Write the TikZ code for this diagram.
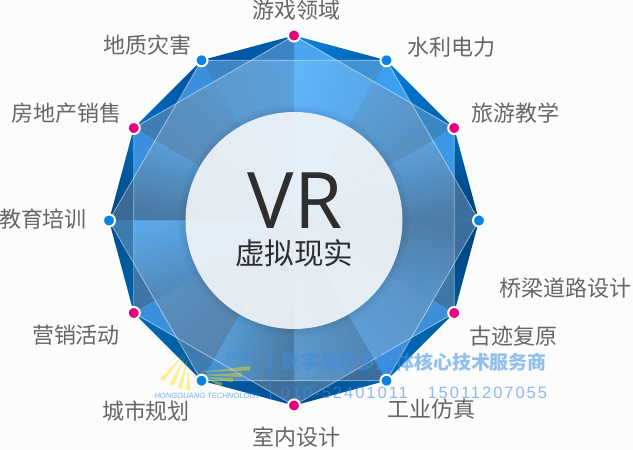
\documentclass[tikz,border=0pt]{standalone}
\usepackage{fontspec}
\usetikzlibrary{calc}
\setmainfont{Noto Sans}
\newfontfamily\cjk{Noto Sans CJK SC}
\newfontfamily\latinf{Liberation Sans}
\newfontfamily\latins[LetterSpace=12]{Liberation Sans}
\newfontfamily\vrfont{Open Sans}
\definecolor{lab}{HTML}{666666}
\definecolor{pinkdot}{HTML}{E5007F}
\definecolor{bluedot}{HTML}{0A84E0}
\definecolor{wm}{HTML}{3E8EE0}
\definecolor{basefill}{HTML}{4F8CC4}
\tikzset{
  x=1pt,y=1pt,
  lab/.style={font=\cjk\fontsize{22}{22}\selectfont,text=lab,inner sep=0pt},
  dotp/.style={circle,draw=white,line width=2pt,fill=pinkdot,minimum size=12pt,inner sep=0pt},
  dotb/.style={circle,draw=white,line width=2pt,fill=bluedot,minimum size=12pt,inner sep=0pt},
  hexline/.style={draw=white,draw opacity=.5,line width=.8pt},
  ray/.style={fill=yellow!80!orange,fill opacity=.45},
}
\begin{document}
\begin{tikzpicture}
\useasboundingbox (0,0) rectangle (633,450);
\fill[white!99!black] (0,0) rectangle (633,450);
\coordinate (c) at (294,229.5);
\def\myR{185}
\def\myX{165.4}
\def\myM{160.2}
\foreach \k in {0,...,12}{
  \pgfmathsetmacro\mya{30*\k}
  \coordinate (p\k) at ($(c)+(\mya:\myR)$);
  \coordinate (m\k) at ($(c)+(\mya:\myM)$);
  \pgfmathsetmacro\myb{30*\k+15}
  \coordinate (x\k) at ($(c)+(\myb:\myX)$);
}
\fill[basefill] (p0)--(p2)--(p4)--(p6)--(p8)--(p10)--cycle;
\fill[basefill] (c) circle (155);
% k / outer low,high / tip low, tip high / kite low, high
\foreach \k/\cola/\colb/\colc/\cold/\cole/\colf in {
 0/00427C/0068B8/3A6F9E/3A98E8/4E7EA9/63ACEC,
 1/0062AE/007ADA/3B87C4/3AA0EF/5788B4/5BA6E6,
 2/0060AC/0A80DA/3F92D4/4AA5EF/55A2E2/60B4F8,
 3/0062AC/0050A0/3C85C5/3C85C6/5AA0DC/5C96C8,
 4/0052A0/006ABA/3A90DC/3C7EB5/5C9AD0/5686B2,
 5/0068B4/004A84/3B8FDC/3A6A96/60AAEA/4A79A3,
 6/00508C/0064AE/3C7AB0/3E75A5/5AA6E6/4E7CA6,
 7/0066B0/005CA2/3A90DC/3F7AB0/5B93C6/547FA6,
 8/005CA4/004E92/4490D0/3F6F98/5CAAE8/4B7BA3,
 9/004E90/005FA8/3D76A5/3A6F9E/5C98CC/4E7EA8,
 10/0068B8/0060A8/3A8EDE/3D90D8/60A2DE/5A8FC0,
 11/00589C/00427C/3E76A8/3A6F9E/5C9CD6/4E7EA8}{
  \pgfmathtruncatemacro\nxt{\k+1}
  \pgfmathsetmacro\ang{30*\k+15}
  \definecolor{ola}{HTML}{\cola}\definecolor{olb}{HTML}{\colb}
  \definecolor{tla}{HTML}{\colc}\definecolor{tlb}{HTML}{\cold}
  \definecolor{kla}{HTML}{\cole}\definecolor{klb}{HTML}{\colf}
  \shade[top color=olb,bottom color=ola,shading angle=\ang] (p\k)--(p\nxt)--(x\k)--cycle;
  \fill[tla] (p\k)--(x\k)--(m\k)--cycle;
  \fill[tlb] (p\nxt)--(x\k)--(m\nxt)--cycle;
  \shade[top color=klb,bottom color=kla,shading angle=\ang] (c)--(m\k)--(x\k)--(m\nxt)--cycle;
}
% shadow round the circle
\foreach \r in {116,114,112,110}{\fill[black,fill opacity=.018] (c) circle (\r);}
\fill[white,fill opacity=.85] (c) circle (108.5);
% hexagon edges
\draw[hexline] (p1)--(p3)--(p5)--(p7)--(p9)--(p11)--cycle;
\draw[hexline] (p0)--(p2)--(p4)--(p6)--(p8)--(p10)--cycle;
% watermark logo
\foreach \ax/\ay/\bx/\by in {161.7/70/183.3/95,171.7/65/185/93.3,180/61.7/187.3/90,188.3/60/188.3/80,200/63/193/76,250/81.7/200/78,241.7/75/200/75,233/70/203/73,221.7/65/206.7/71.7}{
  \fill[ray] ($(\ax,\ay)!2.2pt!90:(\bx,\by)$) -- (\bx,\by) -- ($(\ax,\ay)!2.2pt!-90:(\bx,\by)$) -- cycle;
}
\node[font=\latinf\itshape\fontsize{7.6}{8}\selectfont,text=wm,text opacity=.7,inner sep=0pt] (wm1) at (207.5,54) {HONGGUANG TECHNOLOGY};
\node[font=\cjk\bfseries\fontsize{10}{10}\selectfont,text=wm,text opacity=.45,inner sep=0pt] (wm2) at (238,92) {科\ 技};
\draw[wm,opacity=.6,line width=.9pt] (270,100) -- (270,50);
\node[font=\cjk\bfseries\fontsize{19}{19}\selectfont,text=wm,text opacity=.55,inner sep=0pt] (wm3) at (414,88) {数字展厅多媒体核心技术服务商};
\node[font=\latins\fontsize{16.5}{16.5}\selectfont,text=wm,text opacity=.6,inner sep=0pt] (wm4) at (414,57) {010-52401011\ \ \ 15011207055};
% center text
\node[font=\vrfont\fontsize{78}{78}\selectfont,text=black!82,inner sep=0pt] (vr) at (295,249) {VR};
\node[font=\cjk\fontsize{29.5}{29.5}\selectfont,text=black!82,inner sep=0pt] (vt) at (294,197) {虚拟现实};
% dots
\foreach \k in {1,3,5,7,9,11}{\node[dotp] (d\k) at (p\k) {};}
\foreach \k in {0,2,4,6,8,10}{\node[dotb] (d\k) at (p\k) {};}
% labels
\node[lab] (l1) at (296,439.5) {游戏领域};
\node[lab] (l2) at (451,403) {水利电力};
\node[lab] (l3) at (515,337) {旅游教学};
\node[lab] (l4) at (565,162) {桥梁道路设计};
\node[lab] (l5) at (513,114) {古迹复原};
\node[lab] (l6) at (431,41) {工业仿真};
\node[lab] (l7) at (296,13) {室内设计};
\node[lab] (l8) at (146,39) {城市规划};
\node[lab] (l9) at (76,115) {营销活动};
\node[lab] (l10) at (43,231) {教育培训};
\node[lab] (l11) at (67,337) {房地产销售};
\node[lab] (l12) at (147,405) {地质灾害};
\end{tikzpicture}
\end{document}
